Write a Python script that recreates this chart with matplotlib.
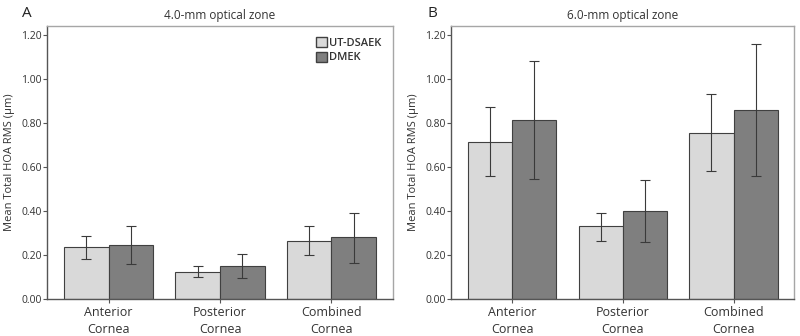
import numpy as np
import matplotlib
matplotlib.use("Agg")
import matplotlib.pyplot as plt
from matplotlib.patches import Patch

plt.rcParams['font.family'] = ['Open Sans', 'DejaVu Sans']

# values (means and error bar ends)
groups = ["Anterior\nCornea", "Posterior\nCornea", "Combined\nCornea"]
series = ["UT-DSAEK", "DMEK"]

mean_4mm_ut = [0.235, 0.123, 0.265]
low_4mm_ut = [0.180, 0.100, 0.200]
high_4mm_ut = [0.288, 0.150, 0.332]
mean_4mm_dmek = [0.245, 0.150, 0.280]
low_4mm_dmek = [0.158, 0.095, 0.165]
high_4mm_dmek = [0.332, 0.205, 0.392]

mean_6mm_ut = [0.715, 0.330, 0.757]
low_6mm_ut = [0.560, 0.265, 0.582]
high_6mm_ut = [0.872, 0.392, 0.932]
mean_6mm_dmek = [0.812, 0.402, 0.858]
low_6mm_dmek = [0.545, 0.260, 0.558]
high_6mm_dmek = [1.080, 0.543, 1.160]

light = "#d9d9d9"
dark = "#7f7f7f"
edge = "#404040"
spine = "#a6a6a6"
text_col = "#333333"

fig = plt.figure(figsize=(8, 3.36), dpi=100)
ax_a = fig.add_axes([0.059, 0.110, 0.432, 0.8125])
ax_b = fig.add_axes([0.564, 0.110, 0.429, 0.8125])

x = np.arange(len(groups))
w = 0.4


def draw_panel(ax, title, m1, lo1, hi1, m2, lo2, hi2):
    for off, m, lo, hi, col in [(-w / 2, m1, lo1, hi1, light), (w / 2, m2, lo2, hi2, dark)]:
        m = np.array(m)
        err = [m - np.array(lo), np.array(hi) - m]
        ax.bar(x + off, m, width=w, color=col, edgecolor=edge, linewidth=0.8, zorder=2)
        ax.errorbar(x + off, m, yerr=err, fmt="none", ecolor="#3a3a3a",
                    elinewidth=0.8, capsize=3.5, capthick=0.8, zorder=3)
    ax.set_xlim(-0.55, 2.55)
    ax.set_ylim(0, 1.241)
    ax.set_yticks(np.arange(0, 1.21, 0.2))
    ax.set_yticklabels(["%.2f" % v for v in np.arange(0, 1.21, 0.2)])
    ax.set_xticks(x)
    ax.set_xticklabels(groups, fontsize=9, color=text_col, linespacing=1.4)
    ax.tick_params(axis="y", labelsize=7.5, colors=text_col, length=3, width=0.8, pad=1, color="#555555")
    ax.tick_params(axis="x", length=3, width=0.8, pad=2, color="#555555")
    for s in ax.spines.values():
        s.set_color(spine)
        s.set_linewidth(1.0)
    ax.spines["left"].set_color("#555555")
    ax.spines["bottom"].set_color("#555555")
    ax.set_ylabel("Mean Total HOA RMS (µm)", fontsize=8, color=text_col, labelpad=4)
    ax.set_title(title, fontsize=8.5, color=text_col, pad=5)


draw_panel(ax_a, "4.0-mm optical zone", mean_4mm_ut, low_4mm_ut, high_4mm_ut,
           mean_4mm_dmek, low_4mm_dmek, high_4mm_dmek)
draw_panel(ax_b, "6.0-mm optical zone", mean_6mm_ut, low_6mm_ut, high_6mm_ut,
           mean_6mm_dmek, low_6mm_dmek, high_6mm_dmek)

handles = [Patch(facecolor=light, edgecolor=edge, label=series[0]),
           Patch(facecolor=dark, edgecolor=edge, label=series[1])]
leg = ax_a.legend(handles=handles, loc="upper right", frameon=False,
                  prop={"size": 8, "weight": "semibold"},
                  handlelength=1.0, handleheight=1.0, handletextpad=0.2,
                  labelspacing=0.25, borderaxespad=0.6)
for t in leg.get_texts():
    t.set_color(text_col)

fig.text(0.027, 0.96, "A", fontsize=11, color="#222222", va="center")
fig.text(0.534, 0.96, "B", fontsize=11, color="#222222", va="center")

fig.savefig("out.png", dpi=100)
